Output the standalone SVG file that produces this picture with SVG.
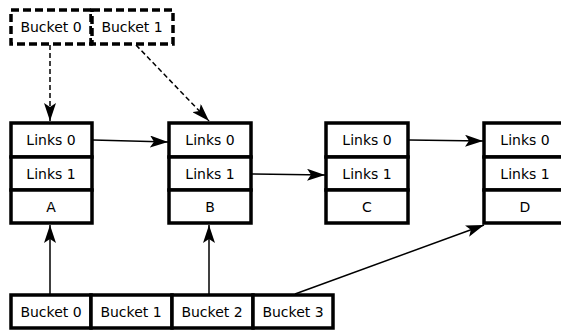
<svg xmlns="http://www.w3.org/2000/svg" width="561" height="330" viewBox="0 0 561 330">
<style>
.cell{fill:#fff;stroke:#000;stroke-width:3.5}
.dash{fill:#fff;stroke:#000;stroke-width:3.5;stroke-dasharray:8,4}
text{font-family:"DejaVu Sans",sans-serif;font-size:14px;fill:#000;text-anchor:middle;dominant-baseline:central}
.conn{stroke:#000;stroke-width:1.5;fill:none;marker-end:url(#ah)}
.dconn{stroke:#000;stroke-width:1.5;fill:none;stroke-dasharray:5,3;marker-end:url(#ah)}
</style>
<defs>
<marker id="ah" markerWidth="18" markerHeight="12" refX="18" refY="6" orient="auto" markerUnits="userSpaceOnUse">
<path d="M0,0 L18,6 L0,12 L4,6 Z" fill="#000"/>
</marker>
</defs>
<g id="top-bucket0"><rect class="dash" x="11" y="10" width="80" height="34"/><text x="51" y="27">Bucket 0</text></g>
<g id="top-bucket1"><rect class="dash" x="92" y="10" width="81" height="34"/><text x="132" y="27">Bucket 1</text></g>
<g id="node-A">
<rect class="cell" x="11" y="123" width="81" height="34"/><text x="51" y="140">Links 0</text>
<rect class="cell" x="11" y="157" width="81" height="33"/><text x="51" y="174">Links 1</text>
<rect class="cell" x="11" y="190" width="81" height="33"/><text x="51" y="207">A</text>
</g>
<g id="node-B">
<rect class="cell" x="169" y="123" width="82" height="34"/><text x="210" y="140">Links 0</text>
<rect class="cell" x="169" y="157" width="82" height="33"/><text x="210" y="174">Links 1</text>
<rect class="cell" x="169" y="190" width="82" height="33"/><text x="210" y="207">B</text>
</g>
<g id="node-C">
<rect class="cell" x="326" y="123" width="82" height="34"/><text x="367" y="140">Links 0</text>
<rect class="cell" x="326" y="157" width="82" height="33"/><text x="367" y="174">Links 1</text>
<rect class="cell" x="326" y="190" width="82" height="33"/><text x="367" y="207">C</text>
</g>
<g id="node-D">
<rect class="cell" x="484" y="123" width="82" height="34"/><text x="525" y="140">Links 0</text>
<rect class="cell" x="484" y="157" width="82" height="33"/><text x="525" y="174">Links 1</text>
<rect class="cell" x="484" y="190" width="82" height="33"/><text x="525" y="207">D</text>
</g>
<g id="bottom-buckets">
<g id="bucket0"><rect class="cell" x="11" y="295" width="80" height="33"/><text x="51" y="312">Bucket 0</text></g>
<g id="bucket1"><rect class="cell" x="91" y="295" width="81" height="33"/><text x="131" y="312">Bucket 1</text></g>
<g id="bucket2"><rect class="cell" x="172" y="295" width="81" height="33"/><text x="212" y="312">Bucket 2</text></g>
<g id="bucket3"><rect class="cell" x="253" y="295" width="80" height="33"/><text x="293" y="312">Bucket 3</text></g>
</g>
<g id="connectors">
<line class="dconn" x1="50" y1="45" x2="50" y2="121"/>
<line class="dconn" x1="136" y1="45" x2="209" y2="121"/>
<line class="conn" x1="93" y1="140" x2="168" y2="142"/>
<line class="conn" x1="252" y1="174" x2="325" y2="175"/>
<line class="conn" x1="409" y1="140" x2="483" y2="141"/>
<line class="conn" x1="50" y1="294" x2="50" y2="225"/>
<line class="conn" x1="209" y1="294" x2="209" y2="225"/>
<line class="conn" x1="295" y1="294" x2="484" y2="225"/>
</g>
</svg>
